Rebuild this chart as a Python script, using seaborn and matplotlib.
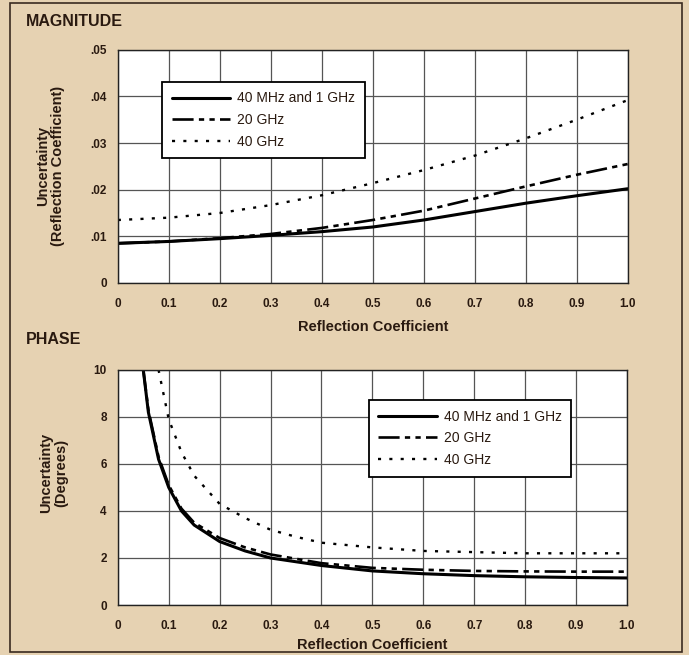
import matplotlib
matplotlib.use("Agg")
import matplotlib.pyplot as plt
import seaborn as sns
import pandas as pd
from matplotlib.patches import Rectangle

sns.set_theme(style="whitegrid")
plt.rcParams['font.family'] = ['Liberation Sans', 'DejaVu Sans']

series_names = ["40 MHz and 1 GHz", "20 GHz", "40 GHz"]

# Magnitude panel
mag_x = [0.0, 0.1, 0.2, 0.3, 0.4, 0.5, 0.6, 0.7, 0.8, 0.9, 1.0]
mag_solid = [0.0085, 0.0089, 0.0095, 0.0102, 0.0110, 0.0120, 0.0135, 0.0153, 0.0171, 0.0187, 0.0202]
mag_dashdot = [0.0085, 0.0089, 0.0096, 0.0105, 0.0118, 0.0135, 0.0155, 0.0181, 0.0207, 0.0232, 0.0255]
mag_dotted = [0.0135, 0.0140, 0.0150, 0.0167, 0.0188, 0.0214, 0.0242, 0.0273, 0.0310, 0.0350, 0.0392]

# Phase panel
ph_x_solid = [0.05, 0.06, 0.08, 0.10, 0.125, 0.15, 0.20, 0.25, 0.30, 0.40, 0.50, 0.60, 0.70, 0.80, 0.90, 1.00]
ph_solid = [10.0, 8.2, 6.2, 5.0, 4.0, 3.4, 2.7, 2.3, 2.0, 1.68, 1.45, 1.33, 1.25, 1.2, 1.17, 1.15]
ph_x_dashdot = [0.05, 0.06, 0.08, 0.10, 0.125, 0.15, 0.20, 0.25, 0.30, 0.40, 0.50, 0.60, 0.70, 0.80, 0.90, 1.00]
ph_dashdot = [10.0, 8.3, 6.3, 5.1, 4.1, 3.5, 2.85, 2.45, 2.15, 1.78, 1.58, 1.5, 1.45, 1.43, 1.42, 1.42]
ph_x_dotted = [0.08, 0.10, 0.125, 0.15, 0.20, 0.25, 0.30, 0.35, 0.40, 0.50, 0.60, 0.70, 0.80, 0.90, 1.00]
ph_dotted = [10.0, 7.9, 6.5, 5.5, 4.3, 3.7, 3.2, 2.9, 2.65, 2.45, 2.3, 2.25, 2.2, 2.2, 2.2]

x_ticks = [0.0, 0.1, 0.2, 0.3, 0.4, 0.5, 0.6, 0.7, 0.8, 0.9, 1.0]
x_tick_labels = ["0", "0.1", "0.2", "0.3", "0.4", "0.5", "0.6", "0.7", "0.8", "0.9", "1.0"]
mag_y_ticks = [0, 0.01, 0.02, 0.03, 0.04, 0.05]
mag_y_labels = ["0", ".01", ".02", ".03", ".04", ".05"]
ph_y_ticks = [0, 2, 4, 6, 8, 10]
ph_y_labels = ["0", "2", "4", "6", "8", "10"]

BG = "#e6d2b2"
TXT = "#2a1a10"
fig = plt.figure(figsize=(6.89, 6.55), dpi=100, facecolor=BG)
ax1 = fig.add_axes([0.171, 0.568, 0.740, 0.356])
ax2 = fig.add_axes([0.171, 0.0763, 0.739, 0.359])

styles = [
    dict(color="black", linewidth=2.2, linestyle="-"),
    dict(color="black", linewidth=1.9, linestyle=(0, (8, 2, 2, 2, 2, 2))),
    dict(color="black", linewidth=1.7, linestyle=(0, (1.3, 3.5))),
]

def draw(ax, xs, ys):
    for name, x, y, st in zip(series_names, xs, ys, styles):
        df = pd.DataFrame({"x": x, "y": y})
        sns.lineplot(data=df, x="x", y="y", ax=ax, label=name, **st)

draw(ax1, [mag_x, mag_x, mag_x], [mag_solid, mag_dashdot, mag_dotted])
draw(ax2, [ph_x_solid, ph_x_dashdot, ph_x_dotted], [ph_solid, ph_dashdot, ph_dotted])

tick_font = dict(fontsize=8.5, fontweight="bold", color=TXT)
for ax, yt, yl, ylab, lim, xpad, ylx, yly in [
    (ax1, mag_y_ticks, mag_y_labels, "Uncertainty\n(Reflection Coefficient)", (0, 0.05), 7, -0.104, 0.5),
    (ax2, ph_y_ticks, ph_y_labels, "Uncertainty\n(Degrees)", (0, 10), 4, -0.098, 0.56),
]:
    ax.set_facecolor("white")
    ax.set_xlim(0, 1.0)
    ax.set_ylim(*lim)
    ax.set_xticks(x_ticks)
    ax.set_xticklabels(x_tick_labels, **tick_font)
    ax.set_yticks(yt)
    ax.set_yticklabels(yl, **tick_font)
    ax.tick_params(axis="x", length=0, pad=11)
    ax.tick_params(axis="y", length=0, pad=8)
    ax.grid(True, color="#555555", linewidth=0.9)
    for s in ax.spines.values():
        s.set_color("#222222")
        s.set_linewidth(1.0)
    ax.set_xlabel("Reflection Coefficient", fontsize=10.5, fontweight="bold", color=TXT, labelpad=xpad)
    ax.set_ylabel(ylab, fontsize=10.5, fontweight="bold", color=TXT, linespacing=1.05)
    ax.yaxis.set_label_coords(ylx, yly)

leg_kw = dict(frameon=True, fancybox=False, framealpha=1.0, edgecolor="black",
              fontsize=10, handlelength=4.2, handletextpad=0.5, labelspacing=0.55,
              borderpad=0.7, loc="upper left")
l1 = ax1.legend(bbox_to_anchor=(0.073, 0.893), **leg_kw)
l2 = ax2.legend(bbox_to_anchor=(0.479, 0.902), **leg_kw)
for leg in (l1, l2):
    leg.get_frame().set_linewidth(1.3)
    for t in leg.get_texts():
        t.set_color(TXT)

fig.text(26 / 689, 1 - 21 / 655, "MAGNITUDE", fontsize=11.5, fontweight="bold", color=TXT, va="center")
fig.text(26 / 689, 1 - 340 / 655, "PHASE", fontsize=11.5, fontweight="bold", color=TXT, va="center")

fig.patches.append(Rectangle((10 / 689, 3 / 655), 672 / 689, 649 / 655, transform=fig.transFigure,
                             fill=False, edgecolor="#3a2a20", linewidth=1.2))

fig.savefig("out.png", dpi=100, facecolor=BG)
